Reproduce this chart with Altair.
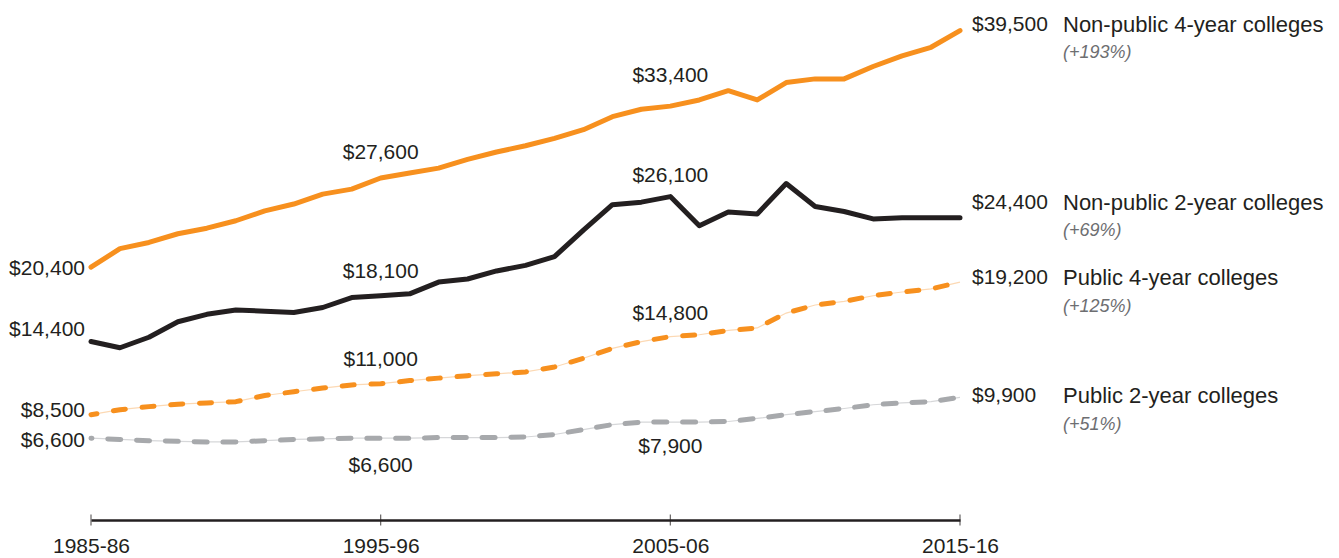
import altair as alt
import pandas as pd

# ---------------- data ----------------
years = list(range(1985, 2016))
nonpublic_4yr = [20400, 21900, 22400, 23100, 23550, 24150, 24950, 25500, 26300, 26700,
                 27600, 28000, 28400, 29100, 29700, 30200, 30800, 31500, 32550, 33150,
                 33400, 33900, 34650, 33900, 35300, 35600, 35600, 36600, 37450, 38150, 39500]
nonpublic_2yr = [14400, 13900, 14750, 16000, 16600, 16950, 16850, 16750, 17150, 17950,
                 18100, 18250, 19200, 19450, 20100, 20550, 21250, 23400, 25450, 25650,
                 26100, 23750, 24850, 24700, 27150, 25300, 24900, 24300, 24400, 24400, 24400]
public_4yr = [8500, 8900, 9150, 9350, 9450, 9550, 10050, 10350, 10650, 10900,
              11000, 11250, 11450, 11650, 11800, 11950, 12350, 13050, 13850, 14400,
              14800, 14950, 15300, 15500, 16700, 17350, 17650, 18100, 18400, 18650, 19200]
public_2yr = [6600, 6500, 6400, 6350, 6300, 6300, 6400, 6500, 6550, 6600,
              6600, 6600, 6650, 6650, 6650, 6700, 6900, 7300, 7700, 7900,
              7900, 7900, 7950, 8200, 8500, 8750, 9000, 9300, 9450, 9550, 9900]

series_names = ["Non-public 4-year colleges", "Non-public 2-year colleges",
                "Public 4-year colleges", "Public 2-year colleges"]
series_changes = ["(+193%)", "(+69%)", "(+125%)", "(+51%)"]
tick_years = [1985, 1995, 2005, 2015]
tick_labels = ["1985-86", "1995-96", "2005-06", "2015-16"]
mid_years = [1995, 2005]

series_values = [nonpublic_4yr, nonpublic_2yr, public_4yr, public_2yr]

# ---------------- styles ----------------
FONT = "Liberation Sans, Arial, Helvetica, sans-serif"
TEXT = "#231F20"
ORANGE = "#F7901E"
BLACK = "#231F20"
GRAY = "#A7A9AC"

# label offsets (pixels) per series: start label, mid labels (1995, 2005), end label
start_dy = [2, -12, -4, 3]
mid_dy = [[-25, -30], [-24, -21], [-24, -23], [28, 25]]
end_dy = [-6, -15, -4, -1]
pct_dy = [22, 13, 25, 28]

rows = []
for name, vals in zip(series_names, series_values):
    for yr, v in zip(years, vals):
        rows.append({"series": name, "year": yr, "value": v})
df = pd.DataFrame(rows)

label_expr = ""
for ty, tl in zip(tick_years, tick_labels):
    label_expr += f"datum.value == {ty} ? '{tl}' : "
label_expr += "''"

X = alt.X("year:Q",
          scale=alt.Scale(domain=[tick_years[0], tick_years[-1]], nice=False, zero=False),
          axis=alt.Axis(values=tick_years, labelExpr=label_expr, ticks=False, tickSize=0,
                        grid=False, domain=True, domainColor=BLACK, domainWidth=2.5,
                        labelFont=FONT, labelFontSize=21, labelColor=TEXT,
                        labelPadding=15, title=None, labelFlush=False))
Y = alt.Y("value:Q", scale=alt.Scale(domain=[0, 41320], nice=False, zero=True), axis=None)


def fmt(v):
    return "${:,}".format(v)


layers = []

# thin connector lines under dashed series
for name, col in [(series_names[2], "#FCD9B4"), (series_names[3], "#D6D7D9")]:
    layers.append(
        alt.Chart(df[df.series == name]).mark_line(color=col, strokeWidth=1.2)
        .encode(x=X, y=Y)
    )

# dashed series
layers.append(
    alt.Chart(df[df.series == series_names[2]]).mark_line(
        color=ORANGE, strokeWidth=5, strokeCap="round", strokeJoin="round",
        strokeDash=[12, 16.8], strokeDashOffset=6)
    .encode(x=X, y=Y)
)
layers.append(
    alt.Chart(df[df.series == series_names[3]]).mark_line(
        color=GRAY, strokeWidth=5, strokeCap="round", strokeJoin="round",
        strokeDash=[13, 15.8], strokeDashOffset=12)
    .encode(x=X, y=Y)
)
# solid series
layers.append(
    alt.Chart(df[df.series == series_names[1]]).mark_line(
        color=BLACK, strokeWidth=5, strokeCap="round", strokeJoin="round")
    .encode(x=X, y=Y)
)
layers.append(
    alt.Chart(df[df.series == series_names[0]]).mark_line(
        color=ORANGE, strokeWidth=5, strokeCap="round", strokeJoin="round")
    .encode(x=X, y=Y)
)

# axis ticks crossing the axis line
tick_df = pd.DataFrame({"year": tick_years, "value": [0] * len(tick_years)})
layers.append(
    alt.Chart(tick_df).mark_tick(orient="vertical", size=11, thickness=1.2, color=BLACK)
    .encode(x=X, y=Y)
)


def text_layer(year, value, text, dx, dy, align, size=21, style="normal", color=TEXT):
    d = pd.DataFrame({"year": [year], "value": [value], "label": [text]})
    return alt.Chart(d).mark_text(
        dx=dx, dy=dy, align=align, baseline="middle", font=FONT,
        fontSize=size, fontStyle=style, color=color
    ).encode(x=X, y=Y, text="label:N")


for i, (name, vals) in enumerate(zip(series_names, series_values)):
    v0 = vals[0]
    vN = vals[-1]
    layers.append(text_layer(years[0], v0, fmt(v0), -6, start_dy[i], "right"))
    for j, my in enumerate(mid_years):
        mv = vals[years.index(my)]
        layers.append(text_layer(my, mv, fmt(mv), 0, mid_dy[i][j], "center"))
    layers.append(text_layer(years[-1], vN, fmt(vN), 12, end_dy[i], "left"))
    layers.append(text_layer(years[-1], vN, name, 103, end_dy[i], "left", size=22))
    layers.append(text_layer(years[-1], vN, series_changes[i], 103, pct_dy[i],
                             "left", size=18, style="italic", color="#6D6E71"))

chart = alt.layer(*layers).properties(
    width=869, height=512,
    padding={"left": 83, "top": 0, "right": 371, "bottom": 36},
    autosize=alt.AutoSizeParams(type="none"),
).configure_view(stroke=None)

chart.save("out.html", embed_options={"renderer": "svg", "actions": False})
